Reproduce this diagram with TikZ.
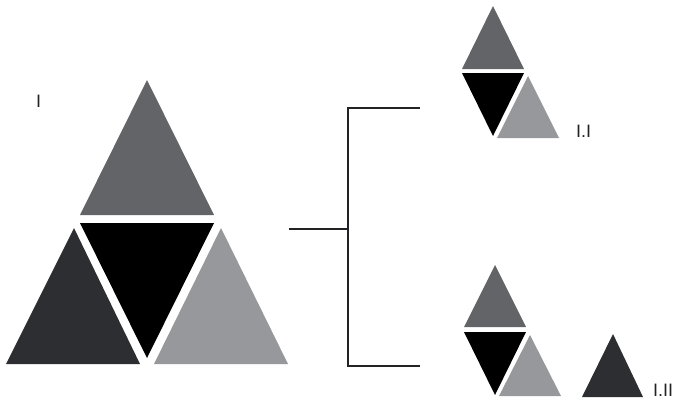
\documentclass[tikz,border=0pt]{standalone}
\usepackage{fontspec}
\setmainfont{Liberation Sans}
\usetikzlibrary{positioning}
\definecolor{tritop}{HTML}{636467}
\definecolor{tridark}{HTML}{2D2E31}
\definecolor{trilight}{HTML}{97989B}
\definecolor{linegray}{HTML}{232325}

\begin{document}
\begin{tikzpicture}[
    x=1pt, y=-1pt,
    font=\fontsize{18}{20}\selectfont,
    topface/.style={fill=tritop},
    darkface/.style={fill=tridark},
    blackface/.style={fill=black},
    lightface/.style={fill=trilight},
    branch/.style={draw=linegray, line width=1.4pt},
    levellabel/.style={anchor=base west, inner sep=0pt, text=linegray}
  ]
    \useasboundingbox (0,0) rectangle (677,399);

    % Level I: the full figure
    \fill[topface]   (147,80)  -- (80,215)  -- (214,215) -- cycle;
    \fill[darkface]  (74,228)  -- (6,364)   -- (140,364) -- cycle;
    \fill[blackface] (80,223)  -- (214,223) -- (147,358) -- cycle;
    \fill[lightface] (221,228) -- (154,364) -- (288,364) -- cycle;
    \node[levellabel] (lvlI) at (36,107) {I};

    % Split connector
    \coordinate (stub)   at (289,229);
    \coordinate (fork)   at (348,229);
    \coordinate (forkup) at (348,108);
    \coordinate (forkdn) at (348,366);
    \coordinate (upend)  at (420,108);
    \coordinate (dnend)  at (420,366);
    \draw[branch] (stub) -- (fork);
    \draw[branch] (upend) -- (forkup) -- (forkdn) -- (dnend);

    % Level I.I: three pieces kept together
    \fill[topface]   (493,6)   -- (462,69)  -- (524,69)  -- cycle;
    \fill[blackface] (462,73)  -- (524,73)  -- (493,136) -- cycle;
    \fill[lightface] (528,76)  -- (497,138) -- (559,138) -- cycle;
    \node[levellabel] (lvlII) at (576,137) {I.I};

    % Level I.II: dark piece split off
    \fill[topface]   (495,265) -- (464,327) -- (526,327) -- cycle;
    \fill[blackface] (464,332) -- (526,332) -- (495,395) -- cycle;
    \fill[lightface] (530,335) -- (499,396) -- (561,396) -- cycle;
    \fill[darkface]  (613,334) -- (582,397) -- (643,397) -- cycle;
    \node[levellabel] (lvlIII) at (653,396) {I.II};
  \end{tikzpicture}
\end{document}
